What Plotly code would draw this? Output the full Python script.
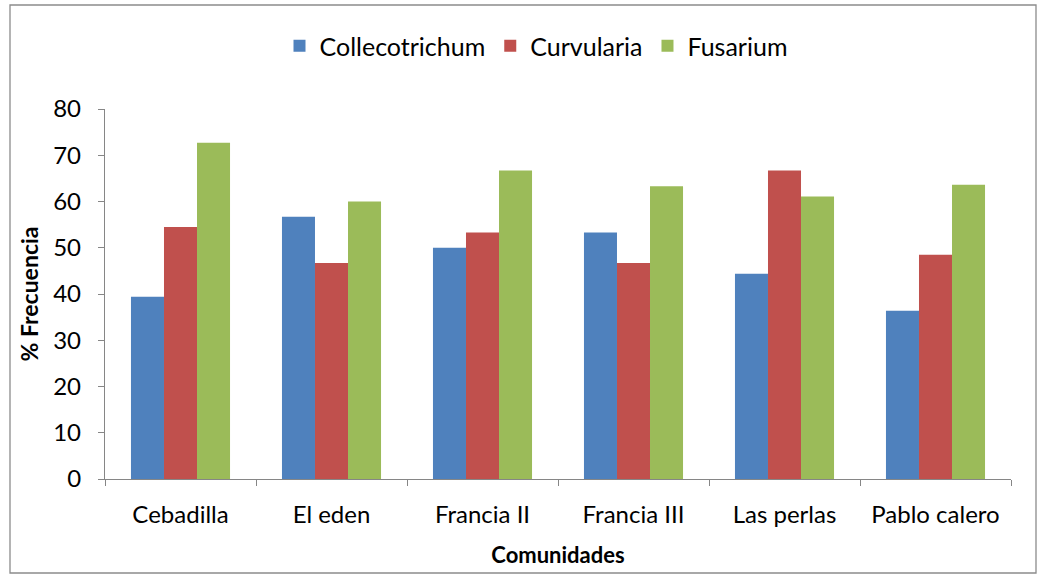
import plotly.graph_objects as go

comunidades = ["Cebadilla", "El eden", "Francia II", "Francia III", "Las perlas", "Pablo calero"]
collecotrichum = [39.4, 56.7, 50.0, 53.3, 44.4, 36.4]
curvularia = [54.5, 46.7, 53.3, 46.7, 66.7, 48.5]
fusarium = [72.7, 60.0, 66.7, 63.3, 61.1, 63.6]
y_ticks = [0, 10, 20, 30, 40, 50, 60, 70, 80]

FONT = "Lato"
FS = 24
AXIS_GREY = "#868686"

fig = go.Figure()
for name, vals, color in [
    ("Collecotrichum", collecotrichum, "#4F81BD"),
    ("Curvularia", curvularia, "#C0504D"),
    ("Fusarium", fusarium, "#9BBB59"),
]:
    fig.add_trace(go.Bar(name=name, x=comunidades, y=vals, marker_color=color,
                         marker_line_width=0))

W, H = 1039, 575
L, R, T, B = 105, 28, 109, 96
pw, ph = W - L - R, H - T - B

def px_x(p):
    return (p - L) / pw

def px_y(p):
    return (H - B - p) / ph

fig.update_layout(
    width=W, height=H,
    margin=dict(l=L, r=R, t=T, b=B),
    paper_bgcolor="white", plot_bgcolor="white",
    font=dict(family=FONT, size=FS, color="black"),
    barmode="group", bargap=0.344, bargroupgap=0,
    showlegend=True,
    legend=dict(orientation="h", x=px_x(536), xanchor="center", y=px_y(46), yanchor="middle",
                font=dict(size=25), itemwidth=30, traceorder="normal"),
    xaxis=dict(showline=True, linecolor=AXIS_GREY, linewidth=1.3, ticks="outside",
               tickson="boundaries", ticklen=6, tickcolor=AXIS_GREY, showgrid=False,
               ticklabelstandoff=14,
               title=dict(text="<b>Comunidades</b>", font=dict(size=FS - 2), standoff=20),
               tickfont=dict(size=FS)),
    yaxis=dict(range=[0, 80], tickvals=y_ticks, showline=True, linecolor=AXIS_GREY,
               linewidth=1.3, ticks="outside", ticklen=6, tickcolor=AXIS_GREY,
               showgrid=False, zeroline=False, ticklabelstandoff=12,
               title=dict(text="<b>% Frecuencia</b>", font=dict(size=FS - 1), standoff=8),
               tickfont=dict(size=FS)),
    shapes=[dict(type="rect", xref="paper", yref="paper",
                 x0=px_x(10), x1=px_x(1036), y0=px_y(573), y1=px_y(5),
                 line=dict(color="#8c8c8c", width=1.3), fillcolor="rgba(0,0,0,0)", layer="below")],
)

fig.write_html("out.html")
